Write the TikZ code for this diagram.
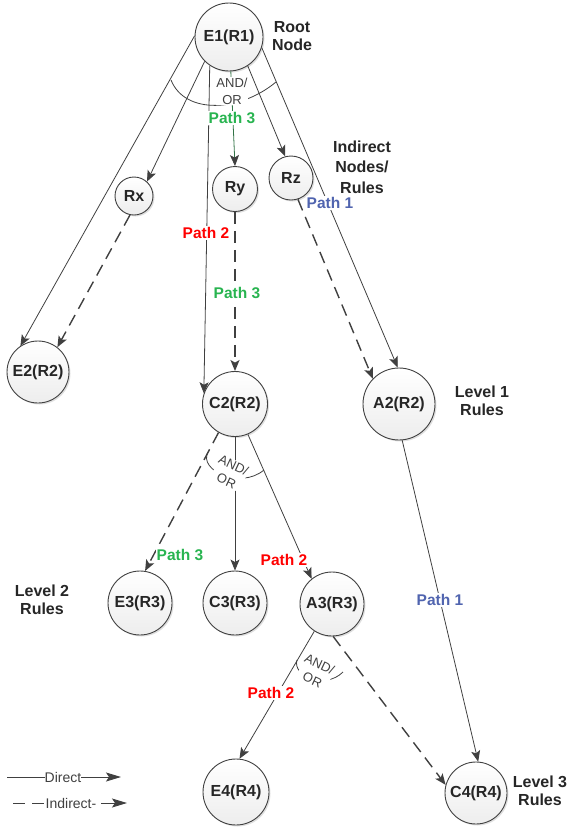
\documentclass[tikz,border=0pt]{standalone}
\usepackage{fontspec}
\setmainfont{Liberation Sans}
\usetikzlibrary{arrows.meta,shadows}
\definecolor{lc}{RGB}{64,64,64}
\definecolor{pgreen}{RGB}{40,180,80}
\definecolor{pred}{RGB}{255,0,0}
\definecolor{pblue}{RGB}{80,100,175}
\definecolor{rygreen}{RGB}{50,115,70}
\begin{document}
\begin{tikzpicture}[x=1pt,y=-1pt,
  rnode/.style={circle, draw=lc, line width=0.9pt, top color=white, bottom color=gray!14,
    minimum size=#1, inner sep=0pt, text=black!85,
    font=\fontsize{16}{18}\selectfont\bfseries,
    drop shadow={opacity=0.25, shadow xshift=1.5pt, shadow yshift=-1.5pt}},
  tip/.style={-{Stealth[length=11pt,width=9pt,inset=2.5pt,color=lc]}},
  dirline/.style={draw=lc, line width=0.8pt, tip},
  indline/.style={draw=lc, line width=1.4pt, dash pattern=on 12pt off 7pt, tip},
  lbl/.style={font=\fontsize{16}{18}\selectfont\bfseries, align=center, text=black!85},
  pathlbl/.style={font=\fontsize{15.5}{18}\selectfont\bfseries, fill=white, inner sep=1pt},
  andor/.style={font=\fontsize{13}{17}\selectfont, align=center, fill=white, inner sep=0.5pt, text=lc},
  legendtxt/.style={font=\fontsize{14}{16}\selectfont, text=lc, inner sep=0pt},
  arcline/.style={draw=lc, line width=0.8pt}
]
\useasboundingbox (0,0) rectangle (569,828);

% nodes
\node[rnode=68pt] (E1) at (229,37) {E1(R1)};
\node[rnode=38pt] (Rx) at (134,196) {Rx};
\node[rnode=45pt] (Ry) at (235,189) {Ry};
\node[rnode=44pt] (Rz) at (291,178) {Rz};
\node[rnode=62pt] (E2) at (38,372) {E2(R2)};
\node[rnode=65pt] (C2) at (235,404) {C2(R2)};
\node[rnode=72pt] (A2) at (399,404) {A2(R2)};
\node[rnode=64pt] (E3) at (140,603) {E3(R3)};
\node[rnode=64pt] (C3) at (235,603) {C3(R3)};
\node[rnode=64pt] (A3) at (332,604) {A3(R3)};
\node[rnode=66pt] (E4) at (236,792) {E4(R4)};
\node[rnode=62pt] (C4) at (476,793) {C4(R4)};

% AND/OR arcs
\draw[arcline] (171,80) .. controls (185,115) and (240,112) .. (276,82);
\draw[arcline] (208,452) .. controls (198,470) and (240,490) .. (264,470);
\draw[arcline] (297,660) .. controls (292,676) and (325,690) .. (343,672);

% connectors
\draw[dirline] (E1.178) -- (E2.124);
\draw[dirline] (E1.225) -- (Rx.48);
\draw[dirline] (E1.236) -- (C2.161);
\draw[dirline, draw=rygreen] (E1.273) -- (Ry.90);
\draw[dirline] (E1.303) -- (Rz.105);
\draw[dirline] (E1.342) -- (A2.92);
\draw[indline] (Rx.258) -- (E2.52);
\draw[indline] (Ry.270) -- (C2.90);
\draw[indline] (Rz.288) -- (A2.136);
\draw[dirline] (A2.275) -- (C4.86);
\draw[indline] (C2.240) -- (E3.81);
\draw[dirline] (C2.270) -- (C3.90);
\draw[dirline] (C2.293) -- (A3.129);
\draw[dirline] (A3.237) -- (E4.84);
\draw[indline] (A3.272) -- (C4.165);

% AND/OR labels
\node[andor] (ao1) at (232,91) {AND/\\OR};
\node[andor, rotate=-25] (ao2) at (230,473) {AND/\\OR};
\node[andor, rotate=-25] (ao3) at (316,672) {AND/\\OR};

% path labels
\node[pathlbl, text=pgreen] (pa) at (232,118) {Path 3};
\node[pathlbl, text=pred] (pb) at (206,233) {Path 2};
\node[pathlbl, text=pgreen] (pc) at (237,293) {Path 3};
\node[pathlbl, text=pblue] (pd) at (330,203) {Path 1};
\node[pathlbl, text=pgreen] (pe) at (180,555) {Path 3};
\node[pathlbl, text=pred] (pf) at (284,560) {Path 2};
\node[pathlbl, text=pred] (pg) at (271,693) {Path 2};
\node[pathlbl, text=pblue] (ph) at (440,600) {Path 1};

% side labels
\node[lbl] (root) at (292,36) {Root\\Node};
\node[lbl, font=\fontsize{16}{20.5}\selectfont\bfseries] (ind) at (362,167) {Indirect\\Nodes/\\Rules};
\node[lbl] (lv1) at (482,401) {Level 1\\Rules};
\node[lbl] (lv2) at (42,600) {Level 2\\Rules};
\node[lbl] (lv3) at (540,791) {Level 3\\Rules};

% legend
\coordinate (la) at (7,777);
\node[legendtxt] (ld) at (63,777) {Direct};
\coordinate (lb) at (121,777);
\draw[draw=lc, line width=0.9pt] (la) -- (ld.west);
\draw[draw=lc, line width=0.9pt, -{Stealth[length=15pt,width=9pt,inset=3pt,color=lc]}] (ld.east) -- (lb);
\coordinate (lc1) at (13,803);
\node[legendtxt] (li) at (71,803) {Indirect-};
\coordinate (ld2) at (127,803);
\draw[draw=lc, line width=0.9pt, dash pattern=on 12pt off 7pt] (lc1) -- (li.west);
\draw[draw=lc, line width=0.9pt, dash pattern=on 0pt off 5pt on 30pt, -{Stealth[length=15pt,width=9pt,inset=3pt,color=lc]}] (li.east) -- (ld2);
\end{tikzpicture}
\end{document}
